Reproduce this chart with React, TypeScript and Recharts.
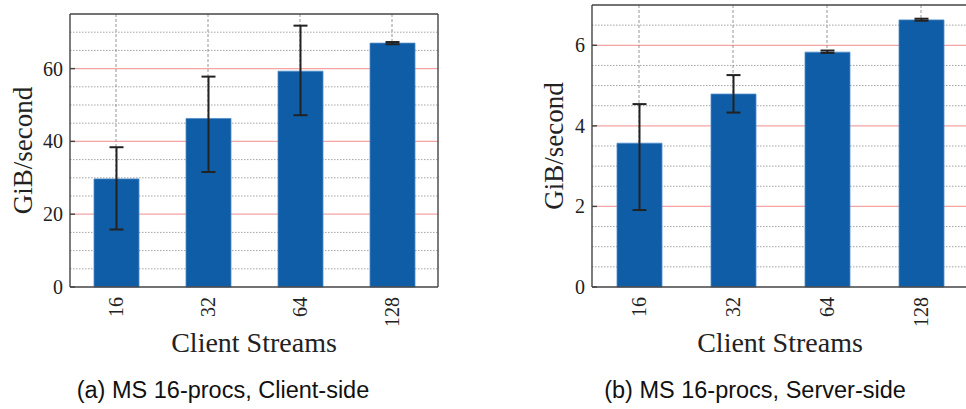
import React from 'react';
import { BarChart, Bar, XAxis, YAxis, CartesianGrid, ErrorBar } from 'recharts';

const categories = ['16', '32', '64', '128'];

const clientValues = [29.7, 46.3, 59.3, 67.0];
const clientErrLow = [13.9, 14.7, 12.1, 0.3];
const clientErrHigh = [8.7, 11.5, 12.5, 0.3];

const serverValues = [3.57, 4.79, 5.83, 6.63];
const serverErrLow = [1.66, 0.46, 0.02, 0.02];
const serverErrHigh = [0.97, 0.47, 0.04, 0.03];

const clientMajor = [0, 20, 40, 60];
const clientMinor = [5, 10, 15, 25, 30, 35, 45, 50, 55, 65, 70];
const clientRed = [20, 40, 60];
const clientMax = 75;

const serverMajor = [0, 2, 4, 6];
const serverMinor = [0.5, 1, 1.5, 2.5, 3, 3.5, 4.5, 5, 5.5, 6.5];
const serverRed = [2, 4, 6];
const serverMax = 7;

const xTitle = 'Client Streams';
const yTitle = 'GiB/second';
const captionA = '(a) MS 16-procs, Client-side';
const captionB = '(b) MS 16-procs, Server-side';

const buildData = (vals: number[], lo: number[], hi: number[]) =>
  categories.map((c, i) => ({ cat: c, value: vals[i], err: [lo[i], hi[i]] }));

const clientData = buildData(clientValues, clientErrLow, clientErrHigh);
const serverData = buildData(serverValues, serverErrLow, serverErrHigh);

const SERIF = '"Liberation Serif", "DejaVu Serif", serif';
const SANS = '"Liberation Sans", "DejaVu Sans", sans-serif';
const BAR = '#0f5da6';
const AXIS = '#444';

const XTick = (props: any) => {
  const { x, y, payload } = props;
  return (
    <text
      x={x}
      y={y}
      transform={`rotate(-90, ${x}, ${y})`}
      textAnchor="end"
      dominantBaseline="central"
      style={{ fontFamily: SERIF, fontSize: 20 }}
      fill="#222"
    >
      {payload.value}
    </text>
  );
};

const YTick = (props: any) => {
  const { x, y, payload } = props;
  return (
    <text
      x={x}
      y={y}
      textAnchor="end"
      dominantBaseline="central"
      style={{ fontFamily: SERIF, fontSize: 20 }}
      fill="#222"
    >
      {payload.value}
    </text>
  );
};

const NoTick = () => <g />;

type PanelProps = {
  data: any[];
  max: number;
  major: number[];
  minor: number[];
  red: number[];
  width: number;
  marginTop: number;
  marginRight: number;
  yAxisWidth: number;
  yLabelGap: number;
};

const Panel = ({ data, max, major, minor, red, width, marginTop, marginRight, yAxisWidth, yLabelGap }: PanelProps) => {
  const yLabel = (props: any) => {
    const vb = props.viewBox || {};
    const cx = vb.x + vb.width - yLabelGap;
    const cy = vb.y + vb.height / 2;
    return (
      <text
        x={cx}
        y={cy}
        transform={`rotate(-90, ${cx}, ${cy})`}
        textAnchor="middle"
        style={{ fontFamily: SERIF, fontSize: 27 }}
        fill="#222"
      >
        {yTitle}
      </text>
    );
  };
  const xLabel = (props: any) => {
    const vb = props.viewBox || {};
    return (
      <text
        x={vb.x + vb.width / 2}
        y={vb.y + 65}
        textAnchor="middle"
        style={{ fontFamily: SERIF, fontSize: 28 }}
        fill="#222"
      >
        {xTitle}
      </text>
    );
  };
  return (
    <BarChart
      width={width}
      height={370}
      data={data}
      margin={{ top: marginTop, right: marginRight, left: 0, bottom: 0 }}
      barSize={45}
    >
      <CartesianGrid
        vertical={false}
        horizontalValues={minor}
        stroke="#9a9a9a"
        strokeDasharray="1.5 1.5"
        strokeWidth={0.9}
      />
      <CartesianGrid vertical={false} horizontalValues={red} stroke="#f5a3a3" strokeWidth={1.2} />
      <CartesianGrid
        horizontal={false}
        syncWithTicks
        stroke="#8a8a8a"
        strokeDasharray="3 2"
        strokeWidth={0.9}
      />
      <XAxis
        dataKey="cat"
        height={83}
        tickLine={false}
        tickSize={0}
        tickMargin={10}
        tick={<XTick />}
        axisLine={{ stroke: AXIS, strokeWidth: 1.4 }}
        label={xLabel}
      />
      <XAxis
        xAxisId="top"
        orientation="top"
        dataKey="cat"
        height={1}
        tick={false}
        tickLine={false}
        axisLine={{ stroke: AXIS, strokeWidth: 1.4 }}
      />
      <YAxis
        type="number"
        domain={[0, max]}
        ticks={major}
        interval={0}
        width={yAxisWidth}
        tickSize={-5}
        tickMargin={12}
        tickLine={{ stroke: AXIS, strokeWidth: 1.4 }}
        tick={<YTick />}
        axisLine={{ stroke: AXIS, strokeWidth: 1.4 }}
        label={yLabel}
      />
      <YAxis
        yAxisId="r"
        orientation="right"
        type="number"
        domain={[0, max]}
        ticks={major}
        interval={0}
        width={1}
        tickSize={-5}
        tick={<NoTick />}
        tickLine={{ stroke: AXIS, strokeWidth: 1.4 }}
        axisLine={{ stroke: AXIS, strokeWidth: 1.4 }}
      />
      <Bar dataKey="value" fill={BAR} stroke="#4f8cc8" strokeWidth={0.8} isAnimationActive={false}>
        <ErrorBar dataKey="err" width={7} stroke="#222" strokeWidth={2} direction="y" isAnimationActive={false} />
      </Bar>
    </BarChart>
  );
};

export default function App() {
  return (
    <div
      style={{
        position: 'absolute',
        left: 0,
        top: 0,
        width: 966,
        height: 409,
        overflow: 'hidden',
        background: '#fff',
      }}
    >
      <div style={{ position: 'absolute', left: 0, top: 0 }}>
        <Panel
          data={clientData}
          max={clientMax}
          major={clientMajor}
          minor={clientMinor}
          red={clientRed}
          width={450}
          marginTop={13}
          marginRight={11}
          yAxisWidth={70}
          yLabelGap={38}
        />
      </div>
      <div style={{ position: 'absolute', left: 520, top: 0 }}>
        <Panel
          data={serverData}
          max={serverMax}
          major={serverMajor}
          minor={serverMinor}
          red={serverRed}
          width={450}
          marginTop={4}
          marginRight={1}
          yAxisWidth={72}
          yLabelGap={29}
        />
      </div>
      <svg width={966} height={409} style={{ position: 'absolute', left: 0, top: 0, pointerEvents: 'none' }}>
        <text x={223} y={398} textAnchor="middle" style={{ fontFamily: SANS, fontSize: 23.5 }} fill="#111">
          {captionA}
        </text>
        <text x={755} y={398} textAnchor="middle" style={{ fontFamily: SANS, fontSize: 23.5 }} fill="#111">
          {captionB}
        </text>
      </svg>
    </div>
  );
}
